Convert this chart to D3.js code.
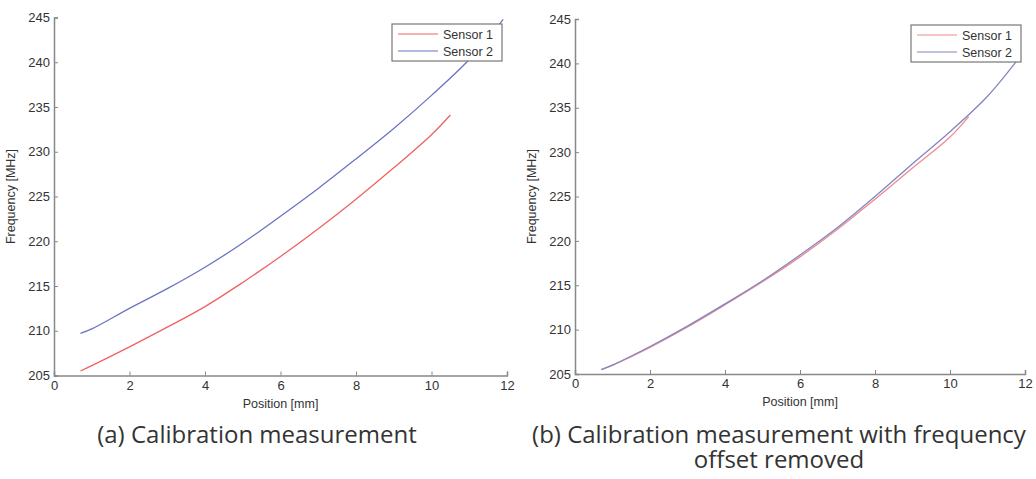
<!DOCTYPE html>
<html lang="en">
  <head>
    <title>calibration</title>
    <meta charset="utf-8">
    <style>
      body { margin: 0; background: #fff; }
      svg { display: block; }
      .tick text { font-family: "Liberation Sans", Arial, sans-serif; font-size: 13px; fill: #333; }
      .lbl { font-family: "Liberation Sans", Arial, sans-serif; font-size: 12.5px; fill: #333; }
      .cap { font-family: "Open Sans", sans-serif; font-size: 24px; fill: #333; }
    </style>
  </head>
  <body>
<svg width="1036" height="479"></svg>
<script src="https://d3js.org/d3.v7.min.js"></script>
<script>

// left panel (a): raw calibration
var posA1 = [0.7, 1, 2, 3, 4, 5, 6, 7, 8, 9, 10, 10.5];
var freqA1 = [205.5, 206.1, 208.2, 210.4, 212.7, 215.4, 218.3, 221.4, 224.7, 228.2, 231.9, 234.1];
var posA2 = [0.7, 1, 2, 3, 4, 5, 6, 7, 8, 9, 10, 11, 11.9];
var freqA2 = [209.7, 210.2, 212.5, 214.7, 217.1, 219.8, 222.8, 225.9, 229.2, 232.6, 236.3, 240.3, 244.8];

// right panel (b): offset removed
var posB1 = [0.7, 1, 2, 3, 4, 5, 6, 7, 8, 9, 10, 10.5];
var freqB1 = [205.5, 206.0, 208.0, 210.3, 212.8, 215.4, 218.2, 221.3, 224.7, 228.2, 231.7, 234.0];
var posB2 = [0.7, 1, 2, 3, 4, 5, 6, 7, 8, 9, 10, 11, 11.8];
var freqB2 = [205.5, 206.0, 208.1, 210.4, 212.9, 215.5, 218.4, 221.5, 225.0, 228.7, 232.3, 236.3, 240.4];

var xTicks = [0, 2, 4, 6, 8, 10, 12];
var yTicks = [205, 210, 215, 220, 225, 230, 235, 240, 245];
var seriesNames = ["Sensor 1", "Sensor 2"];

var svg = d3.select("svg");

function panel(p) {
  var x = d3.scaleLinear().domain([0, 12]).range([p.x0, p.x1]);
  var y = d3.scaleLinear().domain([205, 245]).range([p.y0, p.y1]);
  var g = svg.append("g");

  // lines first, legend paints over them
  var line = d3.line().x(function(d) { return x(d[0]); }).y(function(d) { return y(d[1]); })
      .curve(d3.curveCatmullRom);
  p.series.forEach(function(s, i) {
    g.append("path")
      .datum(d3.zip(s.pos, s.freq))
      .attr("d", line)
      .attr("fill", "none")
      .attr("stroke", p.colors[i])
      .attr("stroke-width", 1.3);
  });

  var xa = g.append("g").attr("transform", "translate(0," + p.y0 + ")")
      .call(d3.axisBottom(x).tickValues(xTicks).tickSize(-4).tickPadding(5).tickFormat(d3.format("d")));
  var ya = g.append("g").attr("transform", "translate(" + p.x0 + ",0)")
      .call(d3.axisLeft(y).tickValues(yTicks).tickSize(-4).tickPadding(4).tickFormat(d3.format("d")));
  [xa, ya].forEach(function(a) {
    a.select(".domain").attr("stroke", "#888").attr("stroke-width", 1.5);
    a.selectAll(".tick line").attr("stroke", "#888");
  });

  g.append("text").attr("class", "lbl")
    .attr("x", (p.x0 + p.x1) / 2).attr("y", p.y0 + 32)
    .attr("text-anchor", "middle").text("Position [mm]");
  g.append("text").attr("class", "lbl")
    .attr("transform", "translate(" + (p.x0 - 39) + "," + ((p.y0 + p.y1) / 2) + ") rotate(-90)")
    .attr("text-anchor", "middle").text("Frequency [MHz]");

  // legend
  var lg = g.append("g").attr("transform", "translate(" + p.lx + "," + p.ly + ")");
  lg.append("rect").attr("width", 110).attr("height", 37)
    .attr("fill", "#fff").attr("stroke", "#777").attr("stroke-width", 1.2);
  seriesNames.forEach(function(n, i) {
    lg.append("line").attr("x1", 6).attr("x2", 46).attr("y1", 10 + i * 17).attr("y2", 10 + i * 17)
      .attr("stroke", p.colors[i]).attr("stroke-width", 1.2);
    lg.append("text").attr("class", "lbl").attr("x", 51).attr("y", 14.5 + i * 17)
      .text(n);
  });

  var cap = svg.append("text").attr("class", "cap").attr("text-anchor", "middle");
  p.caption.forEach(function(c, i) {
    cap.append("tspan").attr("x", p.cx).attr("y", 443 + i * 25).text(c);
  });
}

panel({
  x0: 54, x1: 507, y0: 375.5, y1: 17.5,
  lx: 392, ly: 24,
  colors: ["#f06262", "#6b74c2"],
  series: [{pos: posA1, freq: freqA1}, {pos: posA2, freq: freqA2}],
  caption: ["(a) Calibration measurement"], cx: 257
});

panel({
  x0: 575, x1: 1025, y0: 374, y1: 19,
  lx: 911, ly: 25,
  colors: ["#f08a8e", "#8086c4"],
  series: [{pos: posB1, freq: freqB1}, {pos: posB2, freq: freqB2}],
  caption: ["(b) Calibration measurement with frequency", "offset removed"], cx: 779
});

</script>
  </body>
</html>
